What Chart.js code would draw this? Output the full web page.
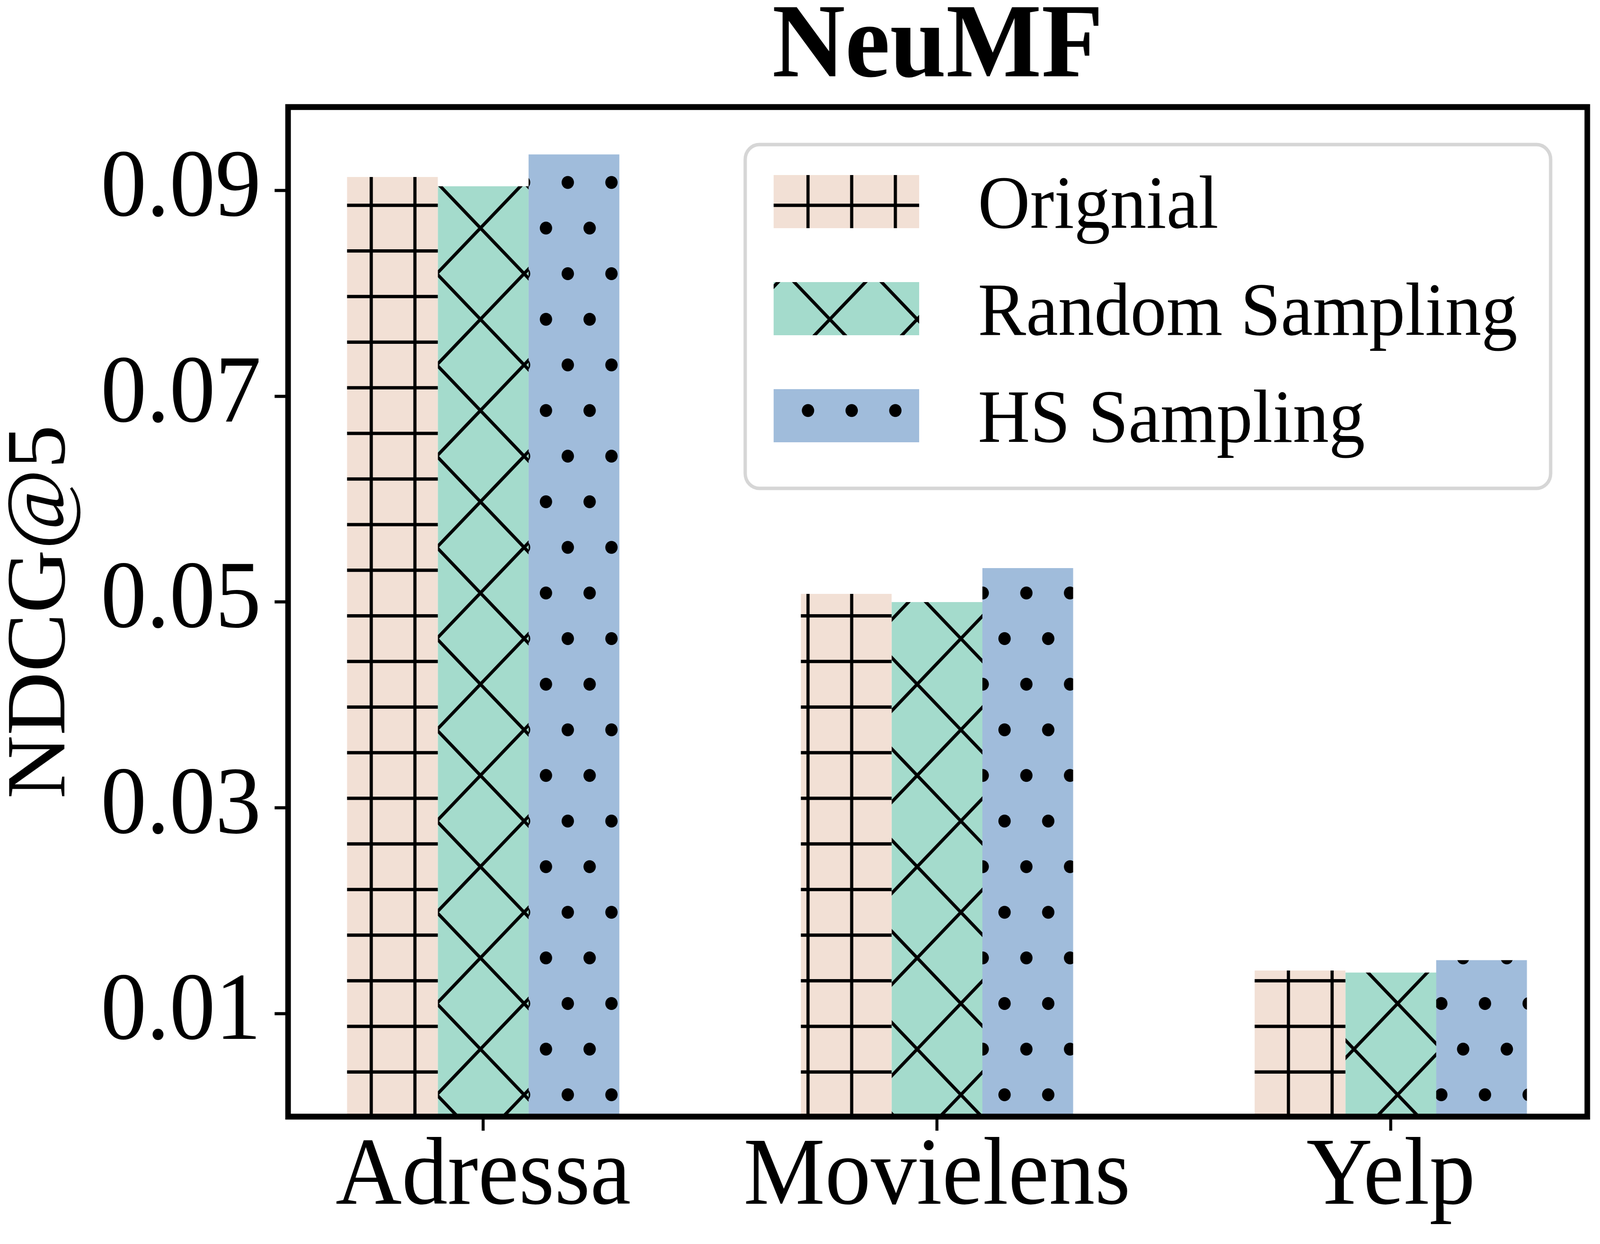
<!DOCTYPE html>
<html>
<head>
<meta charset="utf-8">
<title>NeuMF</title>
<script src="https://cdn.jsdelivr.net/npm/chart.js@4.4.1/dist/chart.umd.min.js"></script>
<style>
  html, body { margin: 0; padding: 0; background: #fff; overflow: hidden; }
  canvas { display: block; }
</style>
</head>
<body>
<canvas id="chart" width="4277" height="3184" style="width:100vw;height:100vh"></canvas>
<script>
// data
var categories = ['Adressa', 'Movielens', 'Yelp'];
var seriesNames = ['Orignial', 'Random Sampling', 'HS Sampling'];
var original = [0.0913, 0.0508, 0.0142];
var randomSampling = [0.0904, 0.0500, 0.0140];
var hsSampling = [0.0935, 0.0533, 0.0152];
var yTickValues = [0.01, 0.03, 0.05, 0.07, 0.09];
var yTickLabels = ['0.01', '0.03', '0.05', '0.07', '0.09'];

var serif = '"Liberation Serif", "Times New Roman", serif';
Chart.defaults.font.family = serif;
Chart.defaults.color = '#000';

var canvas = document.getElementById('chart');
var ctx = canvas.getContext('2d');

// hatch tiles, all anchored at the canvas origin
var P = 116.75;
var TILE = 467;
function makeTile(bg, draw) {
  var c = document.createElement('canvas');
  c.width = TILE;
  c.height = TILE;
  var g = c.getContext('2d');
  g.fillStyle = bg;
  g.fillRect(0, 0, TILE, TILE);
  g.fillStyle = '#000';
  g.strokeStyle = '#000';
  g.lineWidth = 8.5;
  draw(g);
  return ctx.createPattern(c, 'repeat');
}
function plusHatch(g) {
  g.beginPath();
  for (var k = 0; k < 4; k++) {
    var p = P / 2 + k * P;
    g.moveTo(p, 0); g.lineTo(p, TILE);
    g.moveTo(0, p); g.lineTo(TILE, p);
  }
  g.stroke();
}
function crossHatch(g) {
  g.beginPath();
  for (var k = -2; k <= 4; k++) {
    var c = k * 2 * P;
    g.moveTo(c - TILE, -TILE); g.lineTo(c + 2 * TILE, 2 * TILE);
    g.moveTo(c + TILE, -TILE); g.lineTo(c - 2 * TILE, 2 * TILE);
  }
  g.stroke();
}
function dotHatch(g) {
  function dot(x, y) {
    g.beginPath();
    g.arc(x, y, 16.5, 0, Math.PI * 2);
    g.fill();
  }
  for (var i = -1; i <= 4; i++) {
    for (var j = -1; j <= 2; j++) {
      dot(i * P, j * 2 * P);
      dot(i * P + P / 2, j * 2 * P + P);
    }
  }
}

var fills = [
  makeTile('#f2e0d5', plusHatch),
  makeTile('#a4dbcc', crossHatch),
  makeTile('#a0bcdb', dotHatch)
];

function points(values) {
  return values.map(function (v, i) { return { x: i, y: v }; });
}

// box round the plot
var frame = {
  id: 'frame',
  afterDatasetsDraw: function (chart) {
    var a = chart.chartArea, c = chart.ctx;
    c.save();
    c.lineWidth = 15;
    c.strokeStyle = '#000';
    c.strokeRect(a.left, a.top, a.right - a.left, a.bottom - a.top);
    c.restore();
  }
};

// legend inside the plot, top right
var legendBox = {
  id: 'legendBox',
  afterDraw: function (chart) {
    var a = chart.chartArea, c = chart.ctx;
    var w = 2153, h = 880;
    var left = a.right - 98 - w, top = a.top + 96;
    c.save();
    c.beginPath();
    c.roundRect(left, top, w, h, 38);
    c.fillStyle = 'rgba(255,255,255,0.8)';
    c.fill();
    c.lineWidth = 9;
    c.strokeStyle = '#d6d6d6';
    c.stroke();
    chart.data.datasets.forEach(function (ds, i) {
      var py = top + 78 + i * 274;
      c.fillStyle = ds.backgroundColor;
      c.fillRect(left + 76, py, 389, 136);
      c.fillStyle = '#000';
      c.font = '193px ' + serif;
      c.textBaseline = 'alphabetic';
      c.textAlign = 'left';
      c.fillText(ds.label, left + 622, py + 135);
    });
    c.restore();
  }
};

new Chart(canvas, {
  type: 'bar',
  data: {
    datasets: [
      { label: seriesNames[0], data: points(original), backgroundColor: fills[0], borderWidth: 0 },
      { label: seriesNames[1], data: points(randomSampling), backgroundColor: fills[1], borderWidth: 0 },
      { label: seriesNames[2], data: points(hsSampling), backgroundColor: fills[2], borderWidth: 0 }
    ]
  },
  options: {
    responsive: false,
    devicePixelRatio: 1,
    animation: false,
    events: [],
    categoryPercentage: 0.6,
    barPercentage: 1.0,
    layout: { padding: { left: 0, right: 34, top: 0, bottom: 0 } },
    plugins: {
      legend: { display: false },
      tooltip: { enabled: false },
      title: {
        display: true,
        text: 'NeuMF',
        fullSize: false,
        color: '#000',
        font: { size: 270, weight: 'bold', lineHeight: 0.9 },
        padding: { top: 4, bottom: 27 }
      }
    },
    scales: {
      x: {
        type: 'linear',
        offset: false,
        min: -0.43,
        max: 2.433,
        afterBuildTicks: function (axis) {
          axis.ticks = categories.map(function (c, i) { return { value: i }; });
        },
        afterFit: function (axis) { axis.height = 326; },
        grid: { offset: false, drawOnChartArea: false, drawTicks: true, tickLength: 36, tickWidth: 8, tickColor: '#000' },
        border: { display: false },
        ticks: {
          autoSkip: false,
          maxRotation: 0,
          padding: 0,
          color: '#000',
          font: { size: 245, lineHeight: 1 },
          callback: function (v) { return categories[v]; }
        }
      },
      y: {
        min: 0,
        max: 0.0981,
        afterBuildTicks: function (axis) {
          axis.ticks = yTickValues.map(function (v) { return { value: v }; });
        },
        afterFit: function (axis) { axis.width = 770; },
        grid: { drawOnChartArea: false, drawTicks: true, tickLength: 36, tickWidth: 8, tickColor: '#000' },
        border: { display: false },
        ticks: {
          padding: 36,
          color: '#000',
          font: { size: 245, lineHeight: 1 },
          callback: function (v, i) { return yTickLabels[i]; }
        },
        title: {
          display: true,
          text: 'NDCG@5',
          color: '#000',
          padding: 0,
          font: { size: 225, lineHeight: 1 }
        }
      }
    }
  },
  plugins: [frame, legendBox]
});
</script>
</body>
</html>
